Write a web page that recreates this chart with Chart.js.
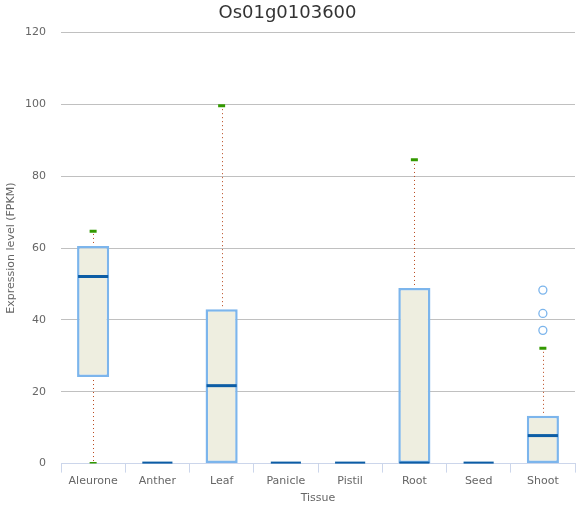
<!DOCTYPE html>
<html>
<head>
<meta charset="utf-8">
<script src="https://cdn.jsdelivr.net/npm/chart.js@4/dist/chart.umd.min.js"></script>
<style>
  html, body { margin: 0; padding: 0; background: #fff; }
  #wrap { width: 585px; height: 511px; }
</style>
</head>
<body>
<div id="wrap"><canvas id="boxCanvas" width="585" height="511"></canvas></div>
<script>
const tissues = ['Aleurone', 'Anther', 'Leaf', 'Panicle', 'Pistil', 'Root', 'Seed', 'Shoot'];
const whiskerLow = [0, 0, 0, 0, 0, 0, 0, 0];
const q1 = [24.1, 0, 0, 0, 0, 0, 0, 0];
const median = [52.1, 0, 21.7, 0, 0, 0, 0, 7.8];
const q3 = [60.6, 0, 43.0, 0, 0, 48.9, 0, 13.3];
const whiskerHigh = [64.7, 0, 99.6, 0, 0, 84.6, 0, 32.1];
const outlierTissue = ['Shoot', 'Shoot', 'Shoot'];
const outlierValue = [48.3, 41.8, 37.1];
const yTicks = [0, 20, 40, 60, 80, 100, 120];

const boxFill = '#eeeee0';
const boxLine = '#7cb5ec';
const medianColor = '#0c5da5';
const whiskerColor = '#b8461a';
const capColor = '#339900';

// cap points: top of every upper whisker, bottom of lower whiskers that stick out
const caps = [];
tissues.forEach((t, i) => {
    if (whiskerHigh[i] > q3[i]) caps.push({ x: t, y: whiskerHigh[i] });
    if (whiskerLow[i] < q1[i]) caps.push({ x: t, y: whiskerLow[i] });
});

const boxExtras = {
    id: 'boxExtras',
    beforeDatasetsDraw(chart) {
        const { ctx, scales: { x, y } } = chart;
        ctx.save();
        ctx.strokeStyle = whiskerColor;
        ctx.lineWidth = 1;
        ctx.setLineDash([1, 3]);
        tissues.forEach((t, i) => {
            const px = Math.round(x.getPixelForValue(i)) + 0.5;
            if (whiskerHigh[i] > q3[i]) {
                ctx.beginPath();
                ctx.moveTo(px, y.getPixelForValue(q3[i]) - 3);
                ctx.lineTo(px, y.getPixelForValue(whiskerHigh[i]));
                ctx.stroke();
            }
            if (whiskerLow[i] < q1[i]) {
                ctx.beginPath();
                ctx.moveTo(px, y.getPixelForValue(q1[i]) + 3);
                ctx.lineTo(px, y.getPixelForValue(whiskerLow[i]));
                ctx.stroke();
            }
        });
        ctx.restore();
    },
    afterDatasetDraw(chart, args) {
        if (args.index !== 0) return;
        const { ctx, scales: { y } } = chart;
        const meta = chart.getDatasetMeta(0);
        ctx.save();
        ctx.strokeStyle = medianColor;
        meta.data.forEach((bar, i) => {
            const half = bar.width / 2;
            const flat = median[i] === 0;
            ctx.lineWidth = flat ? 2 : 3;
            const py = y.getPixelForValue(median[i]) - (flat ? 1 : 0);
            ctx.beginPath();
            ctx.moveTo(bar.x - half + 1, py);
            ctx.lineTo(bar.x + half - 1, py);
            ctx.stroke();
        });
        ctx.restore();
    }
};

const ctx = document.getElementById('boxCanvas').getContext('2d');
new Chart(ctx, {
    data: {
        labels: tissues,
        datasets: [
            {
                type: 'bar',
                data: tissues.map((t, i) => [q1[i], q3[i]]),
                backgroundColor: boxFill,
                borderColor: boxLine,
                borderWidth: 2.5,
                borderSkipped: false,
                categoryPercentage: 1,
                barPercentage: 0.5,
                order: 3
            },
            {
                type: 'line',
                data: caps,
                showLine: false,
                pointStyle: 'line',
                pointRadius: 3.5,
                pointBorderWidth: 3,
                pointBorderColor: capColor,
                pointBackgroundColor: capColor,
                order: 2
            },
            {
                type: 'line',
                data: outlierTissue.map((t, i) => ({ x: t, y: outlierValue[i] })),
                showLine: false,
                pointStyle: 'circle',
                pointRadius: 4,
                pointBorderWidth: 1.3,
                pointBorderColor: boxLine,
                pointBackgroundColor: '#ffffff',
                order: 1
            }
        ]
    },
    options: {
        responsive: false,
        animation: false,
        layout: { padding: { left: 0, right: 10, top: 0, bottom: 6 } },
        plugins: {
            legend: { display: false },
            tooltip: { enabled: false },
            title: {
                display: true,
                text: 'Os01g0103600',
                color: '#333333',
                font: { family: 'DejaVu Sans', size: 18, weight: 'normal' },
                padding: { top: 3, bottom: 8 }
            }
        },
        scales: {
            x: {
                type: 'category',
                offset: true,
                grid: {
                    display: true,
                    offset: true,
                    drawOnChartArea: false,
                    drawTicks: true,
                    tickLength: 9,
                    color: '#ccd6eb'
                },
                border: { display: true, color: '#ccd6eb', width: 1 },
                ticks: {
                    color: '#666666',
                    font: { family: 'DejaVu Sans', size: 11 },
                    padding: 2,
                    autoSkip: false,
                    maxRotation: 0
                },
                title: {
                    display: true,
                    text: 'Tissue',
                    color: '#666666',
                    font: { family: 'DejaVu Sans', size: 11 },
                    padding: { top: 2, bottom: 0 }
                }
            },
            y: {
                min: 0,
                max: 120,
                afterBuildTicks(axis) {
                    axis.ticks = yTicks.map(v => ({ value: v }));
                },
                afterFit(axis) {
                    axis.width = 61;
                },
                grid: {
                    color: '#c0c0c0',
                    drawTicks: false
                },
                border: { display: false },
                ticks: {
                    color: '#666666',
                    font: { family: 'DejaVu Sans', size: 11 },
                    padding: 15
                },
                title: {
                    display: true,
                    text: 'Expression level (FPKM)',
                    color: '#666666',
                    font: { family: 'DejaVu Sans', size: 11 },
                    padding: { top: 5, bottom: 0 }
                }
            }
        }
    },
    plugins: [boxExtras]
});
</script>
</body>
</html>
